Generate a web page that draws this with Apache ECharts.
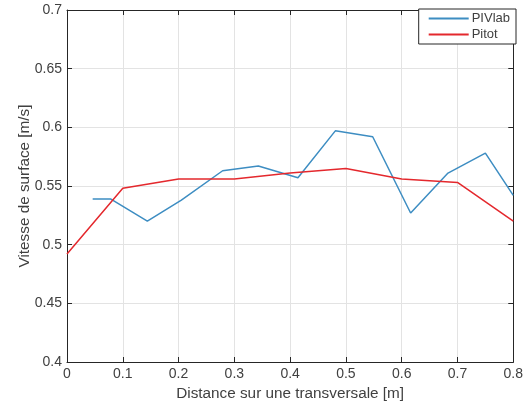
<!DOCTYPE html>
<html>
<head>
<meta charset="utf-8">
<script src="https://cdn.jsdelivr.net/npm/echarts@6/dist/echarts.min.js"></script>
<style>
  html, body { margin: 0; padding: 0; background: #fff; }
  #chart { width: 526px; height: 407px; }
</style>
</head>
<body>
<div id="chart"></div>
<script>
// Surface velocity along a transverse section: PIVlab vs Pitot measurements
const pivlabX = [0.046, 0.078, 0.144, 0.205, 0.279, 0.343, 0.414, 0.481, 0.548, 0.616, 0.683, 0.750, 0.800];
const pivlabV = [0.539, 0.539, 0.520, 0.538, 0.563, 0.567, 0.557, 0.597, 0.592, 0.527, 0.561, 0.578, 0.542];
const pitotX = [0, 0.1, 0.2, 0.3, 0.4, 0.5, 0.6, 0.7, 0.8];
const pitotV = [0.492, 0.548, 0.556, 0.556, 0.561, 0.565, 0.556, 0.553, 0.520];
const xTicks = [0, 0.1, 0.2, 0.3, 0.4, 0.5, 0.6, 0.7, 0.8];
const yTicks = [0.4, 0.45, 0.5, 0.55, 0.6, 0.65, 0.7];

const FONT = '"Liberation Sans", Arial, sans-serif';
const TXT = '#404040';

const pairs = (xs, ys) => xs.map((x, i) => [x, ys[i]]);
const fmt = v => String(+v.toFixed(2));

const chart = echarts.init(document.getElementById('chart'), null, { renderer: 'canvas' });

const baseX = {
  type: 'value', min: xTicks[0], max: xTicks[xTicks.length - 1], interval: 0.1,
  axisLine: { show: true, onZero: false, lineStyle: { color: '#262626', width: 1 } },
  axisTick: { show: true, inside: true, length: 5, lineStyle: { color: '#262626' } },
  splitLine: { show: false }
};
const baseY = {
  type: 'value', min: yTicks[0], max: yTicks[yTicks.length - 1], interval: 0.05,
  axisLine: { show: true, onZero: false, lineStyle: { color: '#262626', width: 1 } },
  axisTick: { show: true, inside: true, length: 5, lineStyle: { color: '#262626' } },
  splitLine: { show: false }
};

chart.setOption({
  animation: false,
  backgroundColor: '#fff',
  textStyle: { fontFamily: FONT },
  grid: { left: 67, right: 10, top: 10, bottom: 45, containLabel: false },
  legend: {
    right: 10, top: 9,
    orient: 'vertical',
    backgroundColor: '#fff',
    borderColor: '#262626', borderWidth: 1, borderRadius: 0,
    padding: [3, 6, 3, 10],
    itemWidth: 40, itemHeight: 2, itemGap: 3,
    icon: 'rect',
    textStyle: { fontFamily: FONT, fontSize: 13, color: TXT, padding: [0, 0, 0, -2] },
    data: ['PIVlab', 'Pitot']
  },
  xAxis: [
    Object.assign({}, baseX, {
      position: 'bottom',
      name: 'Distance sur une transversale [m]',
      nameLocation: 'middle', nameGap: 24, nameMoveOverlap: false,
      nameTextStyle: { fontFamily: FONT, fontSize: 15.3, color: TXT },
      axisLabel: { show: true, margin: 5, fontFamily: FONT, fontSize: 14, color: TXT, formatter: fmt },
      splitLine: { show: true, lineStyle: { color: '#e3e3e3', width: 1 } }
    }),
    Object.assign({}, baseX, { position: 'top', axisLabel: { show: false } })
  ],
  yAxis: [
    Object.assign({}, baseY, {
      position: 'left',
      name: 'Vitesse de surface [m/s]',
      nameLocation: 'middle', nameGap: 35, nameMoveOverlap: false,
      nameTextStyle: { fontFamily: FONT, fontSize: 15.3, color: TXT },
      axisLabel: { show: true, margin: 5, fontFamily: FONT, fontSize: 14, color: TXT, formatter: fmt },
      splitLine: { show: true, lineStyle: { color: '#e3e3e3', width: 1 } }
    }),
    Object.assign({}, baseY, { position: 'right', axisLabel: { show: false } })
  ],
  series: [
    {
      name: 'PIVlab', type: 'line', data: pairs(pivlabX, pivlabV),
      symbol: 'none', color: '#3d8dc2',
      lineStyle: { width: 1.5, color: '#3d8dc2' }, z: 3
    },
    {
      name: 'Pitot', type: 'line', data: pairs(pitotX, pitotV),
      symbol: 'none', color: '#e4282d',
      lineStyle: { width: 1.5, color: '#e4282d' }, z: 3
    }
  ]
});
</script>
</body>
</html>
